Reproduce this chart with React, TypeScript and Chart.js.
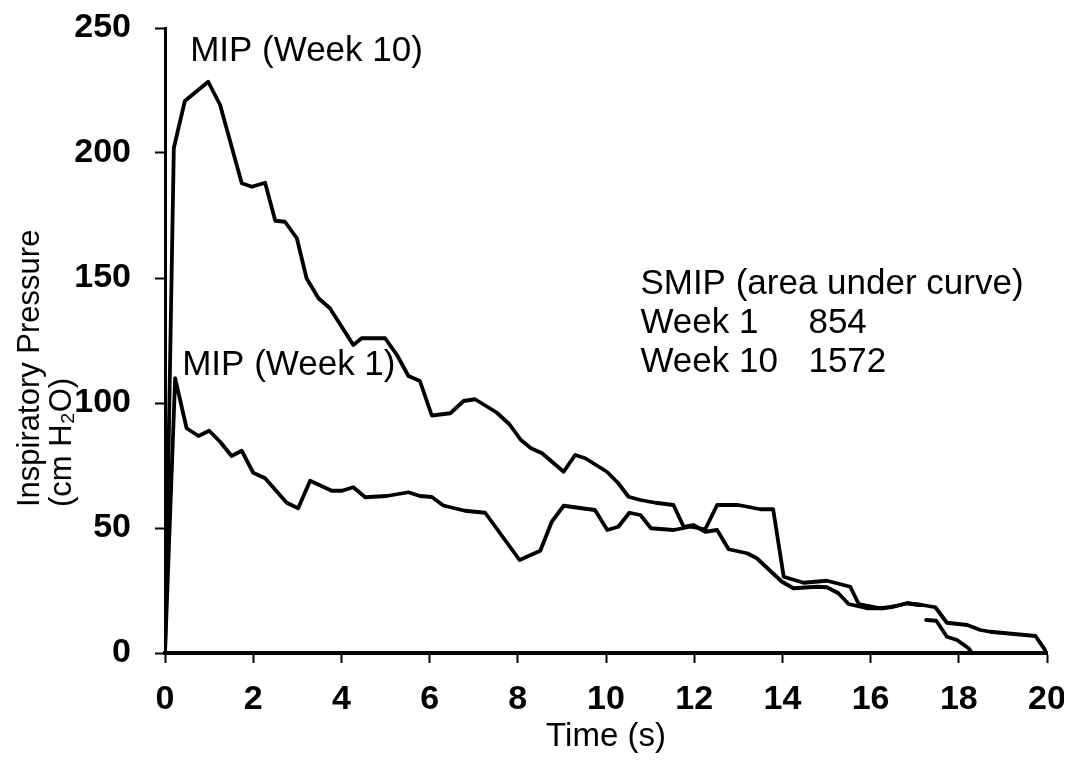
import React, { useEffect, useRef } from "react";
import { Chart, registerables } from "chart.js";

Chart.register(...registerables);

// ---- Data ----
const week10Time = [
  0, 0.2, 0.45, 0.98, 1.25, 1.74, 1.97, 2.27, 2.5, 2.72, 2.99, 3.21, 3.48, 3.74,
  4.27, 4.46, 4.99, 5.26, 5.52, 5.78, 6.05, 6.47, 6.77, 7.03, 7.52, 7.81, 8.07,
  8.3, 8.55, 9.04, 9.3, 9.53, 10.02, 10.28, 10.51, 10.78, 11.12, 11.53, 11.76,
  11.98, 12.25, 12.52, 12.78, 13.2, 13.42, 13.99, 14.25, 14.78, 15.01, 15.27,
  15.5, 15.92, 16.3, 16.67, 16.83, 17.17, 17.47, 17.73, 18.19, 18.49, 18.71,
  19.74, 20,
];
const week10Pressure = [
  0, 202, 220.8, 228.5, 219.2, 187.9, 186.5, 188.1, 172.9, 172.5, 165.9, 149.9,
  141.9, 137.9, 123.2, 125.9, 125.9, 119.2, 110.8, 108.8, 95, 95.9, 100.8, 101.5,
  96.2, 91.5, 85.2, 81.9, 79.9, 72.5, 79.2, 77.9, 72.5, 67.9, 62.5, 61.2, 60.1,
  59.2, 50.5, 51.2, 48.5, 49.2, 41.5, 39.9, 37.9, 28.5, 25.9, 26.5, 26.3, 23.9,
  19.6, 17.9, 17.9, 19.2, 19.9, 19.2, 18.3, 12.1, 11.2, 9.2, 8.5, 6.8, 0,
];

const week1Time = [
  0, 0.23, 0.49, 0.76, 1.0, 1.25, 1.51, 1.74, 2.0, 2.27, 2.76, 3.02, 3.29, 3.78,
  4.01, 4.27, 4.54, 5.03, 5.52, 5.78, 6.05, 6.31, 6.8, 7.26, 8.04, 8.51, 8.77,
  9.04, 9.45, 9.75, 10.03, 10.28, 10.53, 10.78, 11.02, 11.53, 11.91, 12.25,
  12.52, 13.0, 13.5, 13.79, 14.03, 14.48, 15.01, 15.54, 15.73, 16.22, 16.52,
  16.83, 17.1, 17.15, 17.26, 17.49, 17.73, 17.96, 18.22, 18.3,
];
const week1Pressure: (number | null)[] = [
  0, 109.9, 89.9, 86.8, 88.9, 84.5, 78.8, 80.9, 72.1, 69.9, 60.1, 57.9, 68.9,
  64.9, 64.9, 66.3, 62.3, 62.8, 64.3, 62.8, 62.4, 59, 56.9, 56.1, 37.2, 40.9,
  52.5, 58.9, 57.9, 57.2, 49.2, 50.5, 56.1, 55.2, 49.9, 49.2, 50.5, 49.5, 59.2,
  59.2, 57.5, 57.5, 30.5, 28.1, 28.9, 26.5, 19.6, 17.9, 18.5, 19.9, 19.2, null,
  13.2, 12.9, 6.5, 5.2, 1.9, 0,
];

const xTickValues = [0, 2, 4, 6, 8, 10, 12, 14, 16, 18, 20];
const yTickValues = [0, 50, 100, 150, 200, 250];

const peakLabels = ["MIP (Week 10)", "MIP (Week 1)"];
const smipTitle = "SMIP (area under curve)";
const smipWeeks = ["Week 1", "Week 10"];
const smipValues = ["854", "1572"];
const yTitleLines = ["Inspiratory Pressure", "(cm H\u2082O)"];
const xTitle = "Time (s)";

// ---- Label anchor positions (in data units) ----
const peakLabelPos = [
  { x: 0.57, y: 237 },
  { x: 0.39, y: 111.2 },
];
const smipLabelX = 10.78;
const smipValueX = 14.59;
const smipRowY = [143.8, 127.9, 112.5];

const FONT = '"Liberation Sans", Arial, Helvetica, sans-serif';

const annotationPlugin = {
  id: "annotations",
  afterDraw(chart: any) {
    const { ctx, scales } = chart;
    const xs = scales.x;
    const ys = scales.y;
    ctx.save();
    ctx.fillStyle = "#000";
    ctx.textBaseline = "alphabetic";
    ctx.textAlign = "left";
    ctx.font = `35px ${FONT}`;
    peakLabels.forEach((t, i) => {
      ctx.fillText(
        t,
        xs.getPixelForValue(peakLabelPos[i].x),
        ys.getPixelForValue(peakLabelPos[i].y)
      );
    });
    ctx.fillText(smipTitle, xs.getPixelForValue(smipLabelX), ys.getPixelForValue(smipRowY[0]));
    smipWeeks.forEach((w, i) => {
      const py = ys.getPixelForValue(smipRowY[i + 1]);
      ctx.fillText(w, xs.getPixelForValue(smipLabelX), py);
      ctx.fillText(smipValues[i], xs.getPixelForValue(smipValueX), py);
    });

    // y-axis title: two lines, rotated, starting at the same bottom point
    ctx.font = `31px ${FONT}`;
    const baseY = 499;
    const lineX = [31, 63];
    yTitleLines.forEach((line, i) => {
      ctx.save();
      ctx.translate(lineX[i], baseY);
      ctx.rotate(-Math.PI / 2);
      ctx.fillText(line, 0, 0);
      ctx.restore();
    });
    ctx.restore();
  },
};

export default function App() {
  const canvasRef = useRef<HTMLCanvasElement | null>(null);

  useEffect(() => {
    if (!canvasRef.current) return;
    const chart = new Chart(canvasRef.current, {
      type: "line",
      data: {
        datasets: [
          {
            label: "Week 10",
            data: week10Time.map((t, i) => ({ x: t, y: week10Pressure[i] })),
            borderColor: "#000",
            borderWidth: 3.8,
            pointRadius: 0,
            tension: 0,
            fill: false,
          },
          {
            label: "Week 1",
            data: week1Time.map((t, i) => ({ x: t, y: week1Pressure[i] })) as any,
            borderColor: "#000",
            borderWidth: 3.8,
            pointRadius: 0,
            tension: 0,
            fill: false,
            spanGaps: false,
          },
        ],
      },
      options: {
        animation: false,
        responsive: false,
        devicePixelRatio: 1,
        layout: { padding: { top: 20, right: 17, left: 0, bottom: 0 } },
        plugins: {
          legend: { display: false },
          tooltip: { enabled: false },
        },
        elements: { line: { borderJoinStyle: "round", borderCapStyle: "round" } },
        scales: {
          x: {
            type: "linear",
            min: 0,
            max: 20,
            afterBuildTicks: (scale: any) => {
              scale.ticks = xTickValues.map((v) => ({ value: v }));
            },
            afterFit: (scale: any) => {
              scale.height = 116;
              scale.paddingLeft = 0;
              scale.paddingRight = 0;
              scale.paddingTop = 0;
              scale.paddingBottom = 0;
            },
            grid: {
              drawOnChartArea: false,
              drawTicks: true,
              tickLength: 10,
              tickWidth: 2,
              tickColor: "#000",
            },
            border: { display: true, color: "#000", width: 4 },
            ticks: {
              color: "#000",
              padding: 16,
              maxRotation: 0,
              font: { family: FONT, size: 34, weight: "bold" },
            },
            title: {
              display: true,
              text: xTitle,
              color: "#000",
              font: { family: FONT, size: 33 },
              padding: { top: 0, bottom: 12 },
            },
          },
          y: {
            type: "linear",
            min: 0,
            max: 250,
            afterBuildTicks: (scale: any) => {
              scale.ticks = yTickValues.map((v) => ({ value: v }));
            },
            afterFit: (scale: any) => {
              scale.width = 157;
              scale.paddingLeft = 0;
              scale.paddingRight = 0;
              scale.paddingTop = 0;
              scale.paddingBottom = 0;
            },
            grid: {
              drawOnChartArea: false,
              drawTicks: true,
              tickLength: 10,
              tickWidth: 2,
              tickColor: "#000",
            },
            border: { display: true, color: "#000", width: 3 },
            ticks: {
              color: "#000",
              padding: 24,
              font: { family: FONT, size: 34, weight: "bold" },
            },
            title: { display: false },
          },
        },
      },
      plugins: [annotationPlugin],
    });
    return () => chart.destroy();
  }, []);

  return (
    <div style={{ width: 1056, height: 761 }}>
      <canvas
        ref={canvasRef}
        width={1056}
        height={761}
        style={{ display: "block", width: 1056, height: 761 }}
      />
    </div>
  );
}
